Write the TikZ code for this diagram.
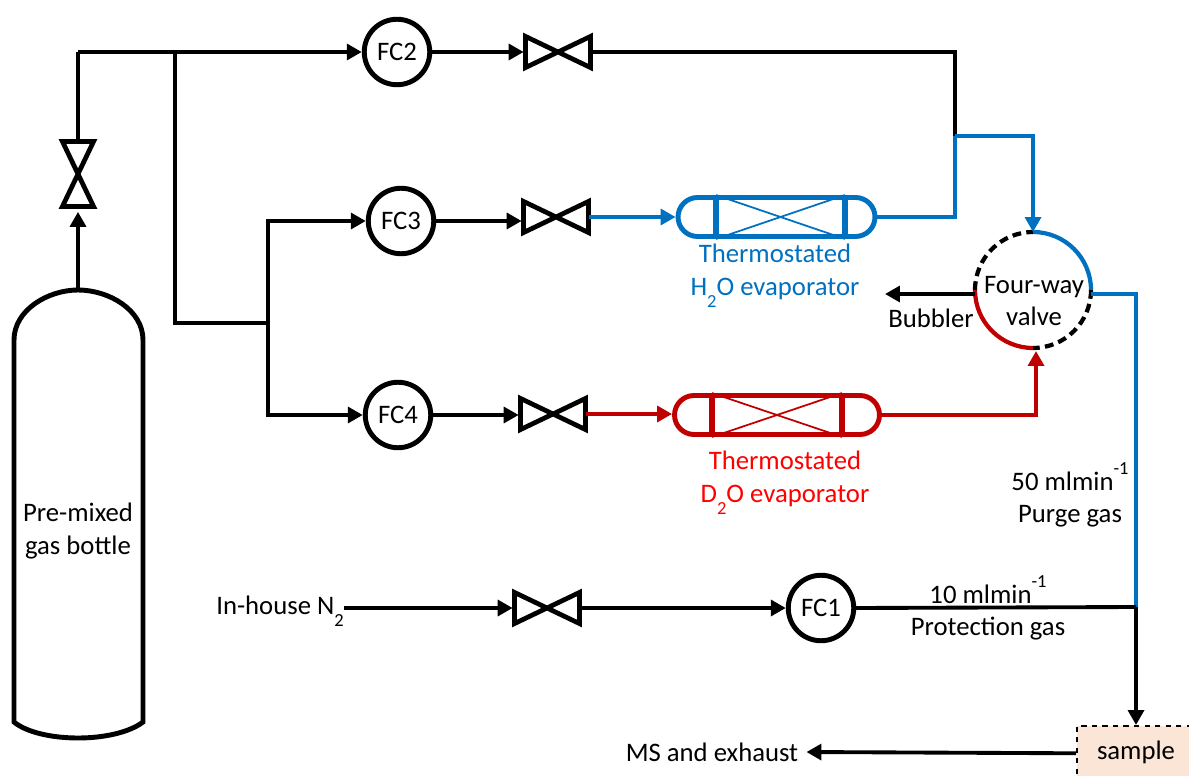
\documentclass[tikz,border=0pt]{standalone}
\usepackage{fontspec}
\setmainfont{Carlito}
\usepackage{xcolor}
\usetikzlibrary{arrows.meta, positioning, shapes.misc, calc}
\definecolor{h2oblue}{HTML}{0070C0}
\definecolor{d2ored}{HTML}{C00000}
\definecolor{samplefill}{HTML}{FBE5D6}
\newcommand{\lowtwo}{\raisebox{-0.95ex}{\fontsize{10.5pt}{11pt}\selectfont 2}}
\newcommand{\highone}{\raisebox{1.25ex}{\fontsize{10.5pt}{11pt}\selectfont -1}}

\begin{document}
\begin{tikzpicture}[
    x=0.02cm, y=-0.02cm,
    every node/.style={font=\fontsize{15.2pt}{18.6pt}\selectfont},
    fc/.style={circle, draw, line width=2.8pt, minimum size=1.31cm, inner sep=0pt},
    valve/.style={rectangle, minimum width=1.29cm, minimum height=0.61cm, inner sep=0pt},
    valveup/.style={rectangle, minimum width=0.61cm, minimum height=1.29cm, inner sep=0pt},
    valveline/.style={line width=2.7pt, line join=miter},
    evap/.style={rounded rectangle, draw, line width=2.8pt, minimum height=0.78cm, inner sep=0pt},
    arr/.style={-{Triangle[length=8.5pt, width=9pt]}, line width=2.2pt},
    pipe/.style={line width=2.2pt},
    lab/.style={align=center, inner sep=0pt}
]
\useasboundingbox (0,0) rectangle (1189,776);

% sample sits under everything else
\node[rectangle, draw, dashed, line width=0.9pt, fill=samplefill, minimum width=2.5cm, minimum height=1.1cm, anchor=north west] (sample) at (1076,725) {};
\node[lab] (samplelab) at (1136,752) {sample};

\coordinate (bottletop) at (78,290);
\draw[line width=2.8pt] (14,722) -- (14,340) .. controls (14,310) and (48,290) .. (bottletop) .. controls (109,290) and (143,310) .. (143,340) -- (143,722) .. controls (130,732) and (105,738) .. (78,738) .. controls (51,738) and (26,732) .. (14,722) -- cycle;
\node[lab] (bottle) at (78,531) {Pre-mixed\\gas bottle};

\node[valveup] (v0) at (78,174) {};
\node[fc] (fc2) at (397,52) {FC2};
\node[fc] (fc3) at (401,221) {FC3};
\node[fc] (fc4) at (398,415) {FC4};
\node[fc] (fc1) at (821,608) {FC1};
\node[valve] (v2) at (558,52) {};
\node[valve] (v3) at (556,217) {};
\node[valve] (v4) at (553,414) {};
\node[valve] (v1) at (547,608) {};

\draw[valveline] (v0.north west) -- (v0.south east) -- (v0.south west) -- (v0.north east) -- cycle;
\foreach \v in {v1,v2,v3,v4}
    \draw[valveline] (\v.north west) -- (\v.south east) -- (\v.north east) -- (\v.south west) -- cycle;

% gas lines from the bottle
\draw[arr] (bottletop) -- ([yshift=-3pt]v0.south);
\coordinate (corner) at (78,52);
\coordinate (split) at (175,52);
\draw[pipe] (v0.north) -- (corner);
\draw[arr] (corner) -- (fc2.west);
\coordinate (tee) at (268,323);
\draw[pipe] (split) -- (175,323) -- (tee);
\draw[arr] (tee) |- (fc3.west);
\draw[arr] (tee) |- (fc4.west);
\draw[arr] (fc2.east) -- ([xshift=-1pt]v2.west);
\draw[arr] (fc3.east) -- ([xshift=-1pt]fc3.east -| v3.west);
\draw[arr] (fc4.east) -- ([xshift=-1pt]fc4.east -| v4.west);

% evaporators
\node[evap, draw=h2oblue, minimum width=3.94cm] (h2o) at (776.5,217) {};
\node[evap, draw=d2ored, minimum width=4.1cm] (d2o) at (777,415) {};
\foreach \e/\c/\l/\r in {h2o/h2oblue/716/845, d2o/d2ored/712/842} {
    \draw[\c, line width=3.2pt] (\l,0 |- \e.north) -- (\l,0 |- \e.south);
    \draw[\c, line width=3.2pt] (\r,0 |- \e.north) -- (\r,0 |- \e.south);
    \draw[\c, line width=1pt] (\l,0 |- \e.north) -- (\r,0 |- \e.south);
    \draw[\c, line width=1pt] (\l,0 |- \e.south) -- (\r,0 |- \e.north);
}
\node[lab, text=h2oblue] (h2olab) at (775,276) {Thermostated\\H\lowtwo O evaporator};
\node[lab, text=red] (d2olab) at (785,483) {Thermostated\\D\lowtwo O evaporator};

% four-way valve
\node[lab] (fourway) at (1034,301) {Four-way\\valve};
\coordinate (fwc) at (1033,290);
\coordinate (fwtop) at (1033,232);
\coordinate (fwbottom) at (1036,351);
\coordinate (fwleft) at (975,290);
\coordinate (fwright) at (1091,290);
\draw[h2oblue, line width=2.4pt] (fwtop) arc[start angle=90, end angle=0, radius=1.16cm];
\draw[d2ored, line width=2.4pt] (1033,348) arc[start angle=-90, end angle=-180, radius=1.16cm];
\draw[line width=2.4pt, dash pattern=on 5pt off 3pt] (fwleft) arc[start angle=180, end angle=90, radius=1.16cm];
\draw[line width=2.4pt, dash pattern=on 5pt off 3pt] (fwright) arc[start angle=0, end angle=-90, radius=1.16cm];

% coloured runs
\coordinate (join) at (955,136);
\coordinate (joinb) at (955,217);
\draw[pipe] (v2.east) -| (join);
\draw[arr, h2oblue] (v3.east) -- (h2o.west);
\draw[pipe, h2oblue] (h2o.east) -- (joinb) -- (join);
\draw[arr, h2oblue] (join) -| (fwtop);
\draw[arr, d2ored] (v4.east) -- (v4.east -| d2o.west);
\draw[arr, d2ored] (d2o.east) -| (fwbottom);

\coordinate (bubblerend) at (885,294);
\draw[arr] (fwleft |- bubblerend) -- (bubblerend);
\node[lab] (bubbler) at (931,318) {Bubbler};

\coordinate (purgeturn) at (1136,294);
\coordinate (merge) at (1136,607);
\draw[pipe, h2oblue] (fwright |- purgeturn) -- (purgeturn) -- (merge);
\node[lab] (purgerate) at (1070,495) {50 mlmin\highone\\Purge gas};

% protection gas
\node[lab] (nitrogen) at (280,611) {In-house N\lowtwo};
\draw[arr] (nitrogen.east |- v1) -- ([xshift=-1pt]v1.west);
\draw[arr] (v1.east) -- (fc1.west);
\draw[pipe] (fc1.east) -- (merge);
\draw[arr] (merge) -- (sample.north -| merge);
\node[lab] (protrate) at (988,608) {10 mlmin\highone\\Protection gas};

\node[lab] (exhaust) at (712,752) {MS and exhaust};
\draw[arr] (sample.west) -- ([xshift=4.5pt]exhaust.east);
\end{tikzpicture}
\end{document}
